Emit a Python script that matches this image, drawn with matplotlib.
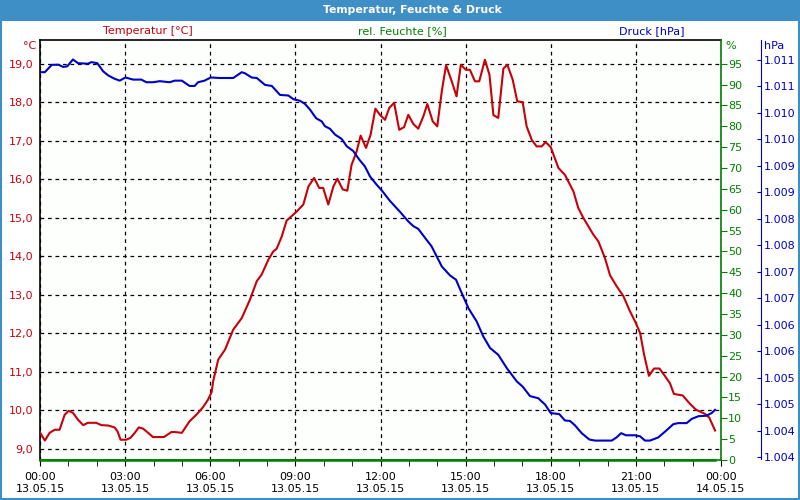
import matplotlib
matplotlib.use("Agg")
import matplotlib.pyplot as plt
from matplotlib.ticker import FuncFormatter, MultipleLocator
from matplotlib.patches import Rectangle

# time in hours since 13.05.15 00:00
temp_h = [0.00, 0.17, 0.34, 0.52, 0.69, 0.87, 1.01, 1.16, 1.34, 1.52, 1.69, 1.98, 2.16, 2.40,
          2.63, 2.73, 2.84, 3.04, 3.19, 3.34, 3.48, 3.63, 3.81, 3.98, 4.37, 4.63, 4.75, 5.00,
          5.27, 5.51, 5.74, 5.92, 6.05, 6.10, 6.28, 6.52, 6.81, 7.11, 7.40, 7.64, 7.81, 8.05,
          8.22, 8.34, 8.52, 8.69, 9.05, 9.28, 9.46, 9.66, 9.84, 9.98, 10.16, 10.34, 10.48,
          10.67, 10.83, 10.98, 11.16, 11.30, 11.49, 11.65, 11.82, 11.98, 12.16, 12.31, 12.48,
          12.66, 12.83, 12.98, 13.16, 13.33, 13.51, 13.65, 13.84, 14.00, 14.16, 14.31, 14.51,
          14.68, 14.83, 15.01, 15.15, 15.33, 15.48, 15.68, 15.84, 15.98, 16.15, 16.33, 16.47,
          16.66, 16.82, 17.01, 17.15, 17.33, 17.50, 17.68, 17.82, 18.00, 18.15, 18.27, 18.50,
          18.80, 18.97, 19.15, 19.50, 19.68, 19.91, 20.09, 20.32, 20.56, 20.79, 21.00, 21.15,
          21.29, 21.46, 21.64, 21.83, 22.03, 22.20, 22.34, 22.65, 22.91, 23.12, 23.44, 23.59,
          23.79]
temp_c = [9.43, 9.22, 9.42, 9.50, 9.50, 9.89, 9.99, 9.94, 9.76, 9.62, 9.68, 9.68, 9.62, 9.61,
          9.56, 9.46, 9.24, 9.24, 9.29, 9.42, 9.56, 9.53, 9.42, 9.31, 9.31, 9.44, 9.44, 9.42,
          9.72, 9.89, 10.08, 10.28, 10.48, 10.75, 11.32, 11.58, 12.10, 12.40, 12.88, 13.36, 13.53, 13.92,
          14.13, 14.20, 14.52, 14.93, 15.17, 15.35, 15.82, 16.04, 15.78, 15.78, 15.35, 15.82, 16.02,
          15.74, 15.71, 16.38, 16.73, 17.14, 16.82, 17.16, 17.84, 17.68, 17.55, 17.86, 17.99,
          17.29, 17.36, 17.68, 17.44, 17.32, 17.64, 17.96, 17.51, 17.38, 18.29, 18.97, 18.55,
          18.16, 18.98, 18.85, 18.85, 18.55, 18.55, 19.11, 18.72, 17.67, 17.60, 18.88, 18.98,
          18.59, 18.03, 18.01, 17.38, 17.03, 16.86, 16.86, 16.97, 16.84, 16.54, 16.30, 16.12,
          15.69, 15.26, 15.00, 14.57, 14.39, 13.96, 13.51, 13.23, 12.97, 12.58, 12.27, 12.01,
          11.45, 10.90, 11.09, 11.09, 10.89, 10.71, 10.43, 10.39, 10.17, 10.02, 9.91, 9.81,
          9.48]

pres_h = [0.00, 0.17, 0.42, 0.66, 0.81, 0.96, 1.16, 1.34, 1.69, 1.81, 2.02, 2.22, 2.40, 2.61,
          2.81, 3.01, 3.28, 3.57, 3.75, 3.98, 4.22, 4.57, 4.75, 5.00, 5.27, 5.45, 5.57, 5.80,
          6.02, 6.34, 6.81, 7.11, 7.22, 7.46, 7.64, 7.93, 8.17, 8.46, 8.75, 8.93, 9.16, 9.34,
          9.52, 9.73, 9.93, 10.04, 10.22, 10.40, 10.63, 10.81, 11.04, 11.25, 11.45, 11.63,
          11.87, 12.04, 12.33, 12.69, 12.98, 13.16, 13.33, 13.57, 13.80, 13.98, 14.16, 14.45,
          14.66, 14.86, 15.10, 15.39, 15.62, 15.86, 16.15, 16.45, 16.80, 17.01, 17.27, 17.56,
          17.80, 18.00, 18.30, 18.50, 18.68, 18.85, 19.09, 19.36, 19.56, 20.15, 20.32, 20.48,
          20.65, 20.97, 21.15, 21.32, 21.50, 21.79, 22.03, 22.32, 22.49, 22.79, 22.97, 23.20,
          23.49, 23.67, 23.79]
pres_hpa = [1011.27, 1011.27, 1011.41, 1011.41, 1011.37, 1011.38, 1011.51, 1011.44, 1011.43,
            1011.46, 1011.44, 1011.29, 1011.21, 1011.15, 1011.11, 1011.17, 1011.13, 1011.13,
            1011.08, 1011.08, 1011.10, 1011.08, 1011.11, 1011.11, 1011.01, 1011.01, 1011.08,
            1011.11, 1011.17, 1011.16, 1011.16, 1011.27, 1011.25, 1011.17, 1011.16, 1011.03,
            1011.01, 1010.84, 1010.83, 1010.76, 1010.73, 1010.67, 1010.56, 1010.40, 1010.34,
            1010.25, 1010.20, 1010.09, 1010.01, 1009.87, 1009.78, 1009.62, 1009.49, 1009.30,
            1009.14, 1009.04, 1008.84, 1008.63, 1008.45, 1008.36, 1008.31, 1008.14, 1007.98,
            1007.79, 1007.60, 1007.43, 1007.35, 1007.10, 1006.81, 1006.56, 1006.28, 1006.06,
            1005.93, 1005.68, 1005.43, 1005.33, 1005.15, 1005.11, 1004.99, 1004.83, 1004.81,
            1004.69, 1004.68, 1004.60, 1004.45, 1004.33, 1004.31, 1004.31, 1004.37, 1004.45,
            1004.41, 1004.41, 1004.39, 1004.31, 1004.31, 1004.37, 1004.48, 1004.62, 1004.64,
            1004.64, 1004.72, 1004.77, 1004.78, 1004.83, 1004.89]

# humidity sensor delivered 0 all day
hum_h = [0.0, 23.79]
hum_pct = [0.0, 0.0]

x_ticks = [0, 3, 6, 9, 12, 15, 18, 21, 24]
x_labels = ["00:00\n13.05.15", "03:00\n13.05.15", "06:00\n13.05.15", "09:00\n13.05.15",
            "12:00\n13.05.15", "15:00\n13.05.15", "18:00\n13.05.15", "21:00\n13.05.15",
            "00:00\n14.05.15"]

RED = "#c8000a"
GREEN = "#008000"
BLUE = "#0000c8"
FS = 8

plt.rcParams["font.family"] = ["DejaVu Sans"]
fig = plt.figure(figsize=(8, 5), dpi=100)
fig.patch.set_facecolor("white")

# blue title bar + frame
fig.patches.append(Rectangle((0, 1 - 21 / 500), 1, 21 / 500, transform=fig.transFigure,
                             facecolor="#3d8fc6", edgecolor="none", zorder=0))
fig.patches.append(Rectangle((0.001, 0.002), 0.998, 0.996, transform=fig.transFigure,
                             facecolor="none", edgecolor="#3d8fc6", linewidth=1.5, zorder=0))
fig.text(0.516, 1 - 10 / 500, "Temperatur, Feuchte & Druck", color="white",
         fontsize=7.8, fontweight="bold", ha="center", va="center")

ax = fig.add_axes([40 / 800, 40 / 500, 681 / 800, 420 / 500])
ax.set_facecolor("#fcfffc")
ax.plot(temp_h, temp_c, color=RED, linewidth=1.5, zorder=3)
ax.set_xlim(0, 24)
ax.set_ylim(8.714, 19.623)
ax.set_xticks(x_ticks)
ax.set_xticklabels(x_labels, fontsize=FS)
ax.xaxis.set_minor_locator(MultipleLocator(1))
ax.tick_params(axis="x", which="both", length=4, direction="out", colors="black", labelsize=FS, pad=5)
ax.set_yticks(range(9, 20))
ax.yaxis.set_major_formatter(FuncFormatter(lambda v, p: f"{v:.1f}".replace(".", ",")))
ax.tick_params(axis="y", length=0, labelcolor=RED, labelsize=FS, pad=5)
ax.grid(True, which="major", color="black", linestyle=(0, (3, 3)), linewidth=0.9)
for s in ["left", "top"]:
    ax.spines[s].set_color("black")
    ax.spines[s].set_linewidth(1.2)
ax.spines["right"].set_visible(False)
ax.spines["bottom"].set_color(GREEN)
ax.spines["bottom"].set_linewidth(1.2)

ax2 = ax.twinx()
ax2.plot(hum_h, hum_pct, color=GREEN, linewidth=1.8, clip_on=False, zorder=3)
ax2.set_ylim(0, 100.7)
ax2.set_yticks(range(0, 100, 5))
ax2.tick_params(axis="y", length=4, direction="out", colors=GREEN, labelsize=FS, pad=1)
ax2.spines["right"].set_color(GREEN)
ax2.spines["right"].set_linewidth(1.2)
for s in ["left", "top", "bottom"]:
    ax2.spines[s].set_visible(False)

ax3 = ax.twinx()
ax3.spines["right"].set_position(("axes", (761 - 40) / 681))
ax3.plot(pres_h, pres_hpa, color=BLUE, linewidth=1.5, zorder=3)
ax3.set_ylim(1003.943, 1011.878)
ax3.set_yticks([1004 + 0.5 * i for i in range(16)])
ax3.yaxis.set_major_formatter(FuncFormatter(lambda v, p: f"{int(v) // 1000}.{int(v) % 1000:03d}"))
ax3.tick_params(axis="y", length=3, direction="in", colors=BLUE, labelsize=FS, pad=2)
ax3.spines["right"].set_color(BLUE)
ax3.spines["right"].set_bounds(1003.97, 1011.878)
for s in ["left", "top", "bottom"]:
    ax3.spines[s].set_visible(False)

# series names and units
fig.text(148 / 800, 1 - 31 / 500, "Temperatur [°C]", color=RED, fontsize=FS, ha="center", va="center")
fig.text(402 / 800, 1 - 31 / 500, "rel. Feuchte [%]", color=GREEN, fontsize=FS, ha="center", va="center")
fig.text(652 / 800, 1 - 31 / 500, "Druck [hPa]", color=BLUE, fontsize=FS, ha="center", va="center")
fig.text(36 / 800, 1 - 46 / 500, "°C", color=RED, fontsize=FS, ha="right", va="center")
fig.text(725 / 800, 1 - 46 / 500, "%", color=GREEN, fontsize=FS, ha="left", va="center")
fig.text(764 / 800, 1 - 46 / 500, "hPa", color=BLUE, fontsize=FS, ha="left", va="center")

fig.savefig("out.png", dpi=100)
